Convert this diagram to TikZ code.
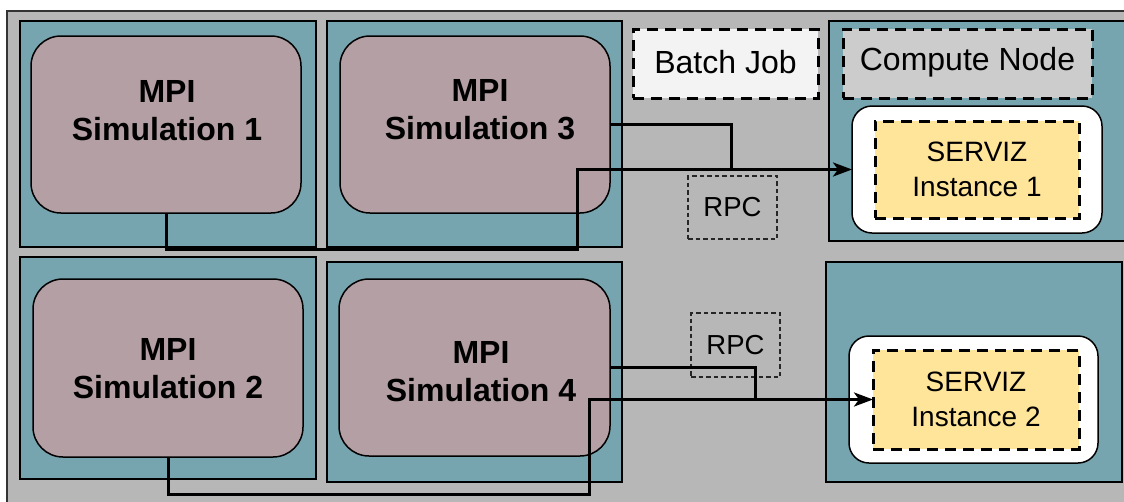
\documentclass[tikz,border=0pt]{standalone}
\usepackage{fontspec}
\setmainfont{Liberation Sans}
\usetikzlibrary{arrows.meta}
\definecolor{bggrey}{HTML}{B7B7B7}
\definecolor{teal1}{HTML}{76A5AF}
\definecolor{simfill}{HTML}{B4A0A4}
\definecolor{batchfill}{HTML}{F3F3F3}
\definecolor{cnfill}{HTML}{CCCCCC}
\definecolor{yel}{HTML}{FFE599}
\definecolor{frame}{HTML}{333333}
\tikzset{
  box/.style={rectangle, inner sep=0pt, outer sep=0pt},
  tealbox/.style={box, draw=black, fill=teal1, line width=1.5pt},
  simbox/.style={box, draw=black, fill=simfill, line width=1.5pt, rounded corners=30pt},
  whitebox/.style={box, draw=black, fill=white, line width=1.5pt, rounded corners=20pt},
  dashbox/.style={box, draw=black, line width=3pt, dash pattern=on 11pt off 7pt},
  rpcbox/.style={box, draw=black!85, line width=1.1pt, dash pattern=on 4.5pt off 3pt},
  simtext/.style={align=center, inner sep=0pt, font=\fontsize{32}{38}\selectfont\bfseries},
  labtext/.style={align=center, inner sep=0pt, font=\fontsize{32}{38}\selectfont},
  svtext/.style={align=center, inner sep=0pt, font=\fontsize{28}{35}\selectfont},
  rpctext/.style={align=center, inner sep=0pt, font=\fontsize{27.5}{33}\selectfont},
  conn/.style={draw=black, line width=3pt},
  arr/.style={conn, -{Stealth[length=19pt, width=14pt, inset=5pt]}},
}
\begin{document}
\begin{tikzpicture}[x=1pt, y=-1pt]
\useasboundingbox (0,0) rectangle (1124,501);
% outer batch job area
\fill[white] (0,0) rectangle (1124,501);
\filldraw[fill=bggrey, draw=frame, line width=1.6pt] (7,11) rectangle (1140,520);

% compute nodes
\node[tealbox, minimum width=296pt, minimum height=226pt] (c1) at (168,134) {};
\node[tealbox, minimum width=295pt, minimum height=226pt] (c3) at (474.5,134) {};
\node[tealbox, minimum width=296pt, minimum height=222pt] (c2) at (168,368) {};
\node[tealbox, minimum width=295pt, minimum height=220pt] (c4) at (474.5,372) {};
\node[tealbox, minimum width=301pt, minimum height=220pt] (cn1) at (979.5,131) {};
\node[tealbox, minimum width=296pt, minimum height=220pt] (cn2) at (974,372) {};

% simulations
\node[simbox, minimum width=270pt, minimum height=177pt] (s1) at (166,124.5) {};
\node[simbox, minimum width=270pt, minimum height=177pt] (s3) at (475,124.5) {};
\node[simbox, minimum width=270pt, minimum height=178pt] (s2) at (168,368) {};
\node[simbox, minimum width=271pt, minimum height=177pt] (s4) at (474.5,367.5) {};
\node[simtext] (t1) at (167,111) {MPI\\Simulation 1};
\node[simtext] (t3) at (480,110) {MPI\\Simulation 3};
\node[simtext] (t2) at (168,369) {MPI\\Simulation 2};
\node[simtext] (t4) at (481,372) {MPI\\Simulation 4};

% legend
\node[dashbox, fill=batchfill, minimum width=185pt, minimum height=69pt] (bj) at (725.5,63.5) {};
\node[labtext] at ([yshift=1pt]bj.center) {Batch Job};
\node[dashbox, fill=cnfill, minimum width=249pt, minimum height=69pt] (cn) at (967.5,63.5) {};
\node[labtext] at ([yshift=1pt]cn.center) {Compute Node};

% SERVIZ instances
\node[whitebox, minimum width=250pt, minimum height=127pt] (w1) at (977,169.5) {};
\node[dashbox, fill=yel, minimum width=204pt, minimum height=97pt] (y1) at (977,169.5) {};
\node[svtext] at (y1.center) {SERVIZ\\Instance 1};
\node[whitebox, minimum width=249pt, minimum height=127pt] (w2) at (973.5,399.5) {};
\node[dashbox, fill=yel, minimum width=206pt, minimum height=99pt] (y2) at (976,399.5) {};
\node[svtext] at (y2.center) {SERVIZ\\Instance 2};

% RPC labels
\node[rpcbox, minimum width=89pt, minimum height=63pt] (r1) at (732.5,207.5) {};
\node[rpctext] at (r1.center) {RPC};
\node[rpcbox, minimum width=89pt, minimum height=64pt] (r2) at (735.5,345) {};
\node[rpctext] at (r2.center) {RPC};

% connectors
\coordinate (b1) at (577,249);
\coordinate (b3) at (731,169.5);
\coordinate (b2) at (589,494);
\coordinate (b4) at (755,399.5);
\draw[arr] (s1.south) |- (b1) |- (w1.west);
\draw[conn] (s3.east) -| (b3);
\draw[arr] (s2.south) |- (b2) |- (y2.west);
\draw[conn] (s4.east) -| (b4);
\end{tikzpicture}
\end{document}
